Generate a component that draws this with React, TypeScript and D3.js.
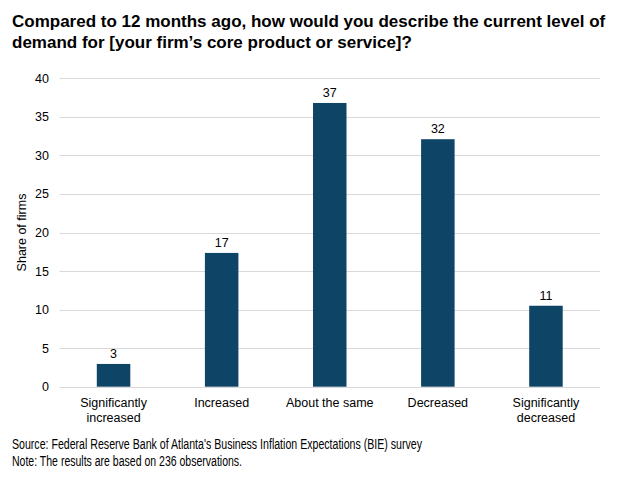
import * as d3 from 'd3';
import React from 'react';

const categories = ['Significantly increased', 'Increased', 'About the same', 'Decreased', 'Significantly decreased'];
const categoryLines = [['Significantly', 'increased'], ['Increased'], ['About the same'], ['Decreased'], ['Significantly', 'decreased']];
const shares = [2.95, 17.35, 36.8, 32.1, 10.5];
const shareLabels = ['3', '17', '37', '32', '11'];
const yTicks = [0, 5, 10, 15, 20, 25, 30, 35, 40];

const titleLines = [
  'Compared to 12 months ago, how would you describe the current level of',
  'demand for [your firm\u2019s core product or service]?',
];
const noteLines = [
  "Source: Federal Reserve Bank of Atlanta's Business Inflation Expectations (BIE) survey",
  'Note: The results are based on 236 observations.',
];
const noteLengths = [410, 230];

export default function App() {
  const width = 621;
  const height = 480;
  const left = 59.5;
  const right = 600;
  const top = 78.3;
  const bottom = 386.7;
  const font = '"Liberation Sans", Arial, sans-serif';

  const x = d3.scaleBand<string>().domain(categories).range([left, right]).paddingInner(0.69).paddingOuter(0.345);
  const y = d3.scaleLinear().domain([0, 40]).range([bottom, top]);

  return (
    <svg width={width} height={height} style={{ position: 'absolute', left: 0, top: 0, background: '#fff' }} fontFamily={font}>
      <rect width={width} height={height} fill="#fff" />
      {titleLines.map((t, i) => (
        <text key={t} x={12} y={27 + i * 21} fontSize={17} fontWeight="bold" fill="#000">
          {t}
        </text>
      ))}
      {yTicks.map(t => (
        <g key={t}>
          <line x1={left} x2={right} y1={Math.round(y(t)) + 0.5} y2={Math.round(y(t)) + 0.5} stroke="#d9d9d9" strokeWidth={1} />
          <text x={49} y={y(t) + 4.5} fontSize={12.5} textAnchor="end" fill="#000">
            {t}
          </text>
        </g>
      ))}
      <text transform={`translate(26,${y(20)}) rotate(-90)`} fontSize={12.5} textAnchor="middle" fill="#000">
        Share of firms
      </text>
      {categories.map((c, i) => (
        <g key={c}>
          <rect x={x(c)} y={y(shares[i])} width={x.bandwidth()} height={y(0) - y(shares[i])} fill="#0e4466" />
          <text x={x(c)! + x.bandwidth() / 2} y={y(shares[i]) - 6} fontSize={12.5} textAnchor="middle" fill="#000">
            {shareLabels[i]}
          </text>
          {categoryLines[i].map((l, j) => (
            <text key={l} x={x(c)! + x.bandwidth() / 2} y={407 + j * 14.5} fontSize={12.5} textAnchor="middle" fill="#000">
              {l}
            </text>
          ))}
        </g>
      ))}
      {noteLines.map((t, i) => (
        <text key={t} x={12} y={449 + i * 17} fontSize={14} fill="#000" textLength={noteLengths[i]} lengthAdjust="spacingAndGlyphs">
          {t}
        </text>
      ))}
    </svg>
  );
}
